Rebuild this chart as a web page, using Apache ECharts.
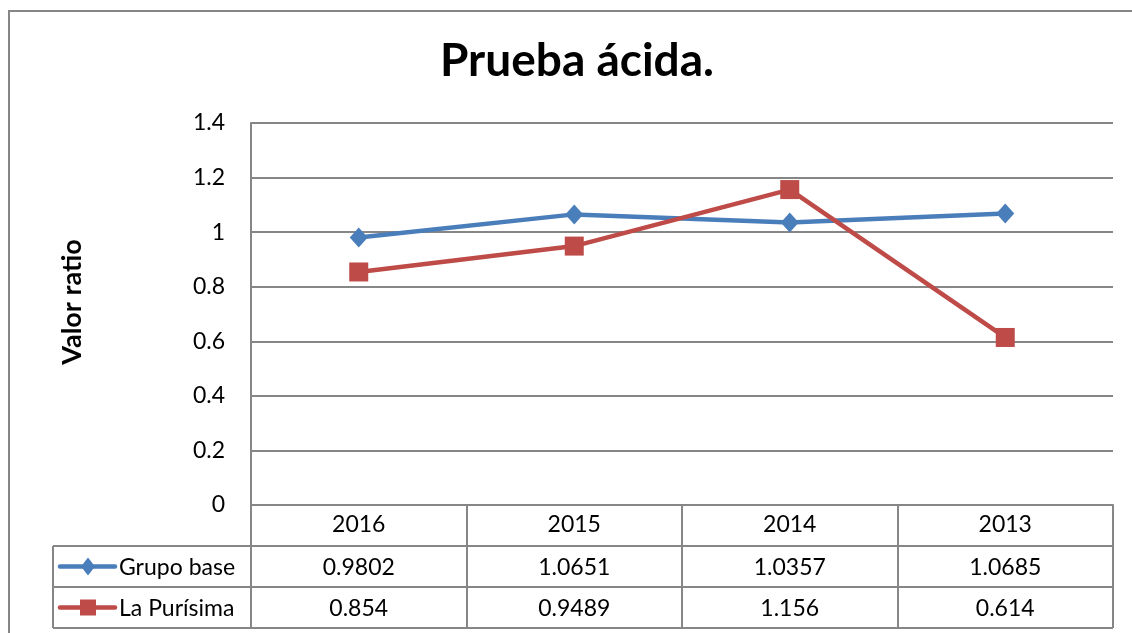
<!DOCTYPE html>
<html><head><meta charset="utf-8">
<script src="https://cdn.jsdelivr.net/npm/echarts@6/dist/echarts.min.js"></script>
<style>html,body{margin:0;padding:0;background:#fff}#c{width:1132px;height:633px}</style>
</head><body><div id="c"></div>
<script>
const categories = ['2016', '2015', '2014', '2013'];
const grupoBase = [0.9802, 1.0651, 1.0357, 1.0685];
const laPurisima = [0.854, 0.9489, 1.156, 0.614];
const grupoBaseLabels = ['0.9802', '1.0651', '1.0357', '1.0685'];
const laPurisimaLabels = ['0.854', '0.9489', '1.156', '0.614'];
const seriesNames = ['Grupo base', 'La Purísima'];
const titleText = 'Prueba ácida.';
const yAxisTitle = 'Valor ratio';
const yMin = 0, yMax = 1.4, yStep = 0.2;

const FONT = 'Lato, "Open Sans", sans-serif';
const BLUE = '#4A7EBB', RED = '#BE4B48', GRAY = '#868686';
const ROW_H = 41;
const FS = 23;

const chart = echarts.init(document.getElementById('c'), null, {renderer: 'canvas'});
const option = {
  animation: false,
  backgroundColor: '#fff',
  title: {
    text: titleText, left: 435, top: 33,
    textStyle: {fontFamily: FONT, fontSize: 46, fontWeight: 'bold', color: '#000'}
  },
  grid: {left: 251, right: 19, top: 123, bottom: 128, containLabel: false},
  xAxis: {
    type: 'category', data: categories, boundaryGap: true,
    axisLine: {show: true, lineStyle: {color: GRAY, width: 2}},
    axisTick: {show: true, interval: 0, alignWithLabel: false, length: ROW_H * 3, lineStyle: {color: GRAY, width: 2}},
    axisLabel: {show: true, interval: 0, margin: 8, fontFamily: FONT, fontSize: FS, color: '#000'},
    splitLine: {show: false}
  },
  yAxis: {
    type: 'value', min: yMin, max: yMax, interval: yStep,
    axisLine: {show: true, lineStyle: {color: GRAY, width: 2}},
    axisTick: {show: false},
    axisLabel: {margin: 26, fontFamily: FONT, fontSize: FS, color: '#000'},
    splitLine: {show: true, lineStyle: {color: GRAY, width: 2}}
  },
  series: [
    {name: seriesNames[0], type: 'line', data: grupoBase, symbol: 'diamond', symbolSize: [18, 20],
     lineStyle: {color: BLUE, width: 4.5}, itemStyle: {color: BLUE}, z: 3},
    {name: seriesNames[1], type: 'line', data: laPurisima, symbol: 'rect', symbolSize: 19,
     lineStyle: {color: RED, width: 4.5}, itemStyle: {color: RED}, z: 4}
  ]
};
chart.setOption(option);

// Build the data table beneath the axis from the axis pixel positions
const x0 = chart.convertToPixel({xAxisIndex: 0}, 0);
const x1 = chart.convertToPixel({xAxisIndex: 0}, 1);
const band = x1 - x0;
const left = x0 - band / 2;
const right = chart.convertToPixel({xAxisIndex: 0}, categories.length - 1) + band / 2;
const yBase = chart.convertToPixel({yAxisIndex: 0}, yMin);
const tableLeft = 53;
const g = [];
const lineSt = {stroke: GRAY, lineWidth: 2};
// outer chart border (left and top)
g.push({type: 'polyline', shape: {points: [[9, 640], [9, 11], [1140, 11]]}, style: {stroke: GRAY, lineWidth: 2, fill: null}});
// y axis extension into table
g.push({type: 'line', shape: {x1: left, y1: yBase, x2: left, y2: yBase + ROW_H * 3}, style: lineSt});
for (let r = 1; r <= 3; r++) {
  g.push({type: 'line', shape: {x1: tableLeft, y1: yBase + ROW_H * r, x2: right, y2: yBase + ROW_H * r}, style: lineSt});
}
g.push({type: 'line', shape: {x1: tableLeft, y1: yBase + ROW_H, x2: tableLeft, y2: yBase + ROW_H * 3}, style: lineSt});
const rows = [
  {name: seriesNames[0], labels: grupoBaseLabels, color: BLUE, sym: 'diamond'},
  {name: seriesNames[1], labels: laPurisimaLabels, color: RED, sym: 'rect'}
];
rows.forEach((row, ri) => {
  const cy = yBase + ROW_H * (ri + 1) + ROW_H / 2;
  g.push({type: 'line', shape: {x1: 60, y1: cy, x2: 115, y2: cy}, style: {stroke: row.color, lineWidth: 4.5, lineCap: 'round'}});
  if (row.sym === 'diamond') {
    g.push({type: 'polygon', shape: {points: [[88, cy - 9], [95, cy], [88, cy + 9], [81, cy]]}, style: {fill: row.color}});
  } else {
    g.push({type: 'rect', shape: {x: 80, y: cy - 8, width: 16, height: 16}, style: {fill: row.color}});
  }
  g.push({type: 'text', x: 119, y: cy + 1, style: {text: row.name, font: FS + 'px ' + FONT, fill: '#000', textVerticalAlign: 'middle', verticalAlign: 'middle'}});
  row.labels.forEach((lab, ci) => {
    const cx = chart.convertToPixel({xAxisIndex: 0}, ci);
    g.push({type: 'text', x: cx, y: cy + 1, style: {text: lab, font: FS + 'px ' + FONT, fill: '#000', align: 'center', textAlign: 'center', verticalAlign: 'middle', textVerticalAlign: 'middle'}});
  });
});
// y axis title
g.push({type: 'text', x: 72, y: 302, rotation: Math.PI / 2,
  style: {text: yAxisTitle, font: 'bold 27px ' + FONT, fill: '#000', align: 'center', textAlign: 'center', verticalAlign: 'middle', textVerticalAlign: 'middle'}});
chart.setOption({graphic: {elements: g}});
</script></body></html>
